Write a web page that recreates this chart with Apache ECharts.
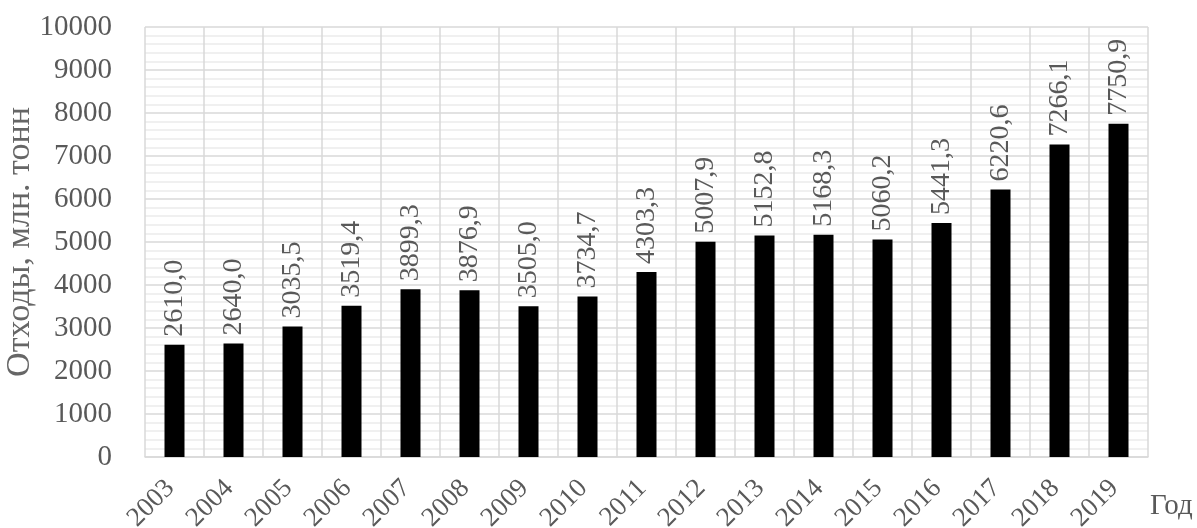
<!DOCTYPE html>
<html>
<head>
<meta charset="utf-8">
<script src="https://cdn.jsdelivr.net/npm/echarts@6/dist/echarts.min.js"></script>
<style>
  html, body { margin: 0; padding: 0; background: #fff; }
  #chart { width: 1197px; height: 528px; }
</style>
</head>
<body>
<div id="chart"></div>
<script>
// Годы и объём отходов, млн. тонн
const years = ['2003','2004','2005','2006','2007','2008','2009','2010','2011','2012','2013','2014','2015','2016','2017','2018','2019'];
const waste = [2610.0, 2640.0, 3035.5, 3519.4, 3899.3, 3876.9, 3505.0, 3734.7, 4303.3, 5007.9, 5152.8, 5168.3, 5060.2, 5441.3, 6220.6, 7266.1, 7750.9];
const yTicks = { min: 0, max: 10000, step: 1000 };

const FONT = '"Liberation Serif", "Times New Roman", "DejaVu Serif", serif';
const TEXT = '#595959';
const GRID = '#d9d9d9';

const chart = echarts.init(document.getElementById('chart'), null, { renderer: 'canvas' });

chart.setOption({
  animation: false,
  backgroundColor: '#ffffff',
  grid: {
    left: 145, right: 49, top: 27, bottom: 71,
    containLabel: false,
    outerBoundsMode: 'none'
  },
  xAxis: {
    type: 'category',
    data: years,
    boundaryGap: true,
    name: 'Год',
    nameLocation: 'end',
    nameGap: 2,
    nameMoveOverlap: false,
    nameTextStyle: {
      fontFamily: FONT, fontSize: 29, color: TEXT,
      align: 'left', verticalAlign: 'top', padding: [35, 0, 0, 0]
    },
    axisLine: { show: true, lineStyle: { color: GRID, width: 1.5 } },
    axisTick: { show: false },
    splitLine: { show: true, lineStyle: { color: GRID, width: 1.5 } },
    axisLabel: {
      fontFamily: FONT, fontSize: 27, color: TEXT,
      rotate: 45, margin: 23, interval: 0, padding: [0, 6, 0, 0]
    }
  },
  yAxis: {
    type: 'value',
    min: yTicks.min,
    max: yTicks.max,
    interval: yTicks.step,
    name: 'Отходы, млн. тонн',
    nameLocation: 'middle',
    nameGap: 108,
    nameMoveOverlap: false,
    nameTextStyle: { fontFamily: FONT, fontSize: 34, color: '#666666' },
    axisLine: { show: false },
    axisTick: { show: false },
    axisLabel: {
      fontFamily: FONT, fontSize: 29, color: TEXT, margin: 33,
      formatter: v => String(v)
    },
    splitLine: { show: true, lineStyle: { color: GRID, width: 1.5 } },
    minorTick: { show: false, splitNumber: 5 },
    minorSplitLine: { show: true, lineStyle: { color: '#ececec', width: 1.5 } }
  },
  series: [{
    type: 'bar',
    data: waste,
    barWidth: 20,
    itemStyle: { color: '#000000' },
    label: {
      show: true,
      position: 'top',
      rotate: 90,
      align: 'left',
      verticalAlign: 'middle',
      distance: 8,
      fontFamily: FONT,
      fontSize: 28,
      color: TEXT,
      formatter: p => p.value.toFixed(1).replace('.', ',')
    }
  }]
});
</script>
</body>
</html>
